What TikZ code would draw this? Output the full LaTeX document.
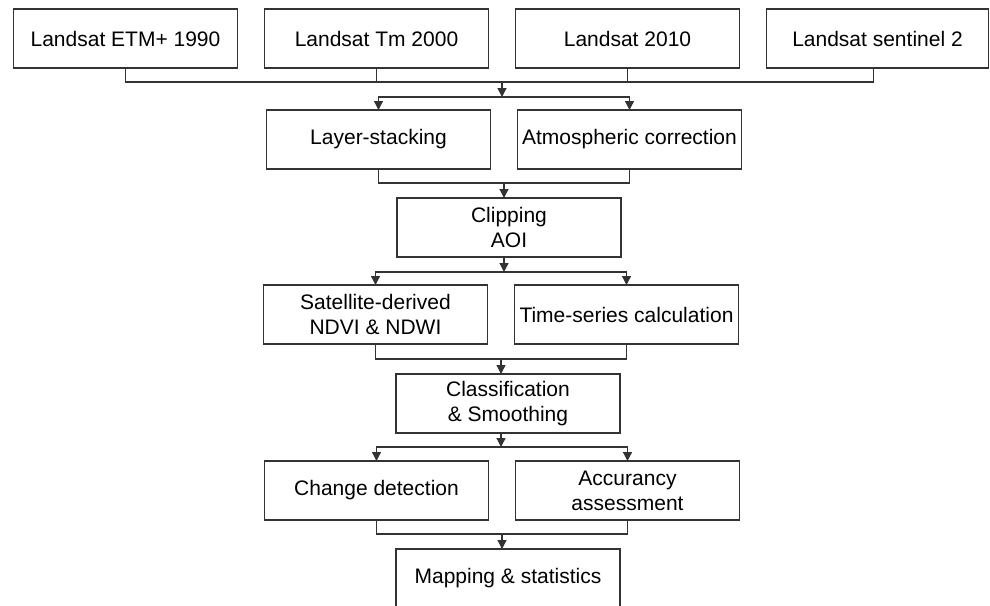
\documentclass[tikz,border=0pt]{standalone}
\usepackage{fontspec}
\setmainfont{Liberation Sans}
\usepackage{tikz}
\usetikzlibrary{arrows.meta,positioning,calc}
\definecolor{flowLine}{HTML}{333333}

\begin{document}
\begin{tikzpicture}[
x=1pt, y=1pt,
node distance=27pt and 27pt,
every node/.style={font=\fontsize{21pt}{25pt}\selectfont},
box/.style={draw=flowLine, line width=1.3pt, align=center, inner sep=0pt, outer sep=0pt, minimum width=224pt, minimum height=59pt},
ln/.style={draw=flowLine, line width=1.3pt},
arr/.style={ln, -{Triangle[length=9pt,width=9pt]}}
]
\useasboundingbox (0,0) rectangle (990,-605);

% Input imagery
\node[box] (D1) at (125.5,-38.5) {Landsat ETM+ 1990};
\node[box, right=of D1] (D2) {Landsat Tm 2000};
\node[box, right=of D2] (D3) {Landsat 2010};
\node[box, right=of D3, minimum width=222pt] (D4) {Landsat sentinel 2};
\draw[ln] (D1.south) -- ++(0,-14) -| ([xshift=-4pt]D4.south);
\draw[ln] (D2.south) -- ++(0,-14); \draw[ln] (D3.south) -- ++(0,-14);
\coordinate (T1) at ($(D2.south)!0.5!(D3.south)+(0,-14)$);

% Pre-processing
\node[box, below=42pt of D2, xshift=2pt] (P1) {Layer-stacking};
\node[box, right=of P1] (P2) {Atmospheric correction};
\draw[arr] (T1) -- ++(0,-15) coordinate (T2);
\draw[arr] (T2) -| (P1); \draw[arr] (T2) -| (P2);
\draw[ln] (P1.south) -- ++(0,-14) -| (P2.south);
\coordinate (T3) at ($(P1.south)!0.5!(P2.south)+(0,-14)$);

% Clipping
\node[box, below=15pt of T3, xshift=5pt] (C0) {Clipping\\AOI};
\draw[arr] (T3) -- (T3 |- C0.north);
\draw[arr] (T3 |- C0.south) -- ++(0,-15) coordinate (T4);

% Indices and time series
\node[box, below=116pt of P1, xshift=-3pt] (A1) {Satellite-derived\\NDVI \& NDWI};
\node[box, below=116pt of P2, xshift=-3pt] (A2) {Time-series calculation};
\draw[arr] (T4) -| (A1); \draw[arr] (T4) -| (A2);
\draw[ln] (A1.south) -- ++(0,-15) -| (A2.south);
\coordinate (T5) at ($(A1.south)!0.5!(A2.south)+(0,-15)$);

% Classification
\node[box, below=15pt of T5, xshift=7pt] (K0) {Classification\\\& Smoothing};
\draw[arr] (T5) -- (T5 |- K0.north);
\draw[arr] (T5 |- K0.south) -- ++(0,-14) coordinate (T6);

% Change detection and accuracy
\node[box, below=117pt of A1, xshift=1pt] (R1) {Change detection};
\node[box, below=117pt of A2, xshift=1pt] (R2) {Accurancy\\assessment};
\draw[arr] (T6) -| (R1); \draw[arr] (T6) -| (R2);
\draw[ln] (R1.south) -- ++(0,-14) -| (R2.south);
\coordinate (T7) at ($(R1.south)!0.5!(R2.south)+(0,-14)$);

% Output
\node[box, below=15pt of T7, xshift=6pt] (M0) {Mapping \& statistics};
\draw[arr] (T7) -- (T7 |- M0.north);
\end{tikzpicture}
\end{document}
